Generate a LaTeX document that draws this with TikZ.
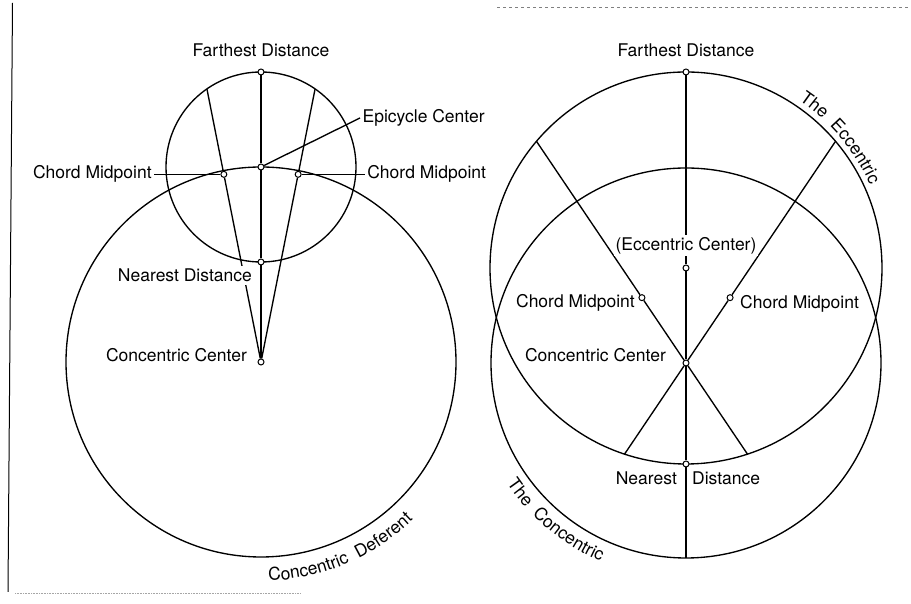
\documentclass[tikz,border=0pt]{standalone}
\usepackage{fontspec}
\setmainfont{TeX Gyre Heros}
\usetikzlibrary{positioning, calc, decorations.text}
\newcommand\lblfont{\fontsize{17.5}{20}\selectfont}

\begin{document}
\begin{tikzpicture}[
      x=1pt, y=1pt,
      line width=1.35pt,
      every node/.style={font=\lblfont, inner sep=2pt},
      dot/.style={circle, draw, fill=white, line width=1pt, inner sep=0pt, minimum size=6pt},
      mask/.style={fill=white},
      arclabel/.style={decorate, decoration={text along path, text align=left}}
    ]
      \useasboundingbox (0,0) rectangle (911,604);

      % page edges
      \draw[line width=1pt] (12.5,601) -- (8,12);
      \draw[gray, line width=0.6pt, dashed] (497,597) -- (911,597);
      \draw[gray!70, line width=0.6pt, densely dotted] (15,11) -- (300,11);

      % left: epicycle on the concentric deferent
      \coordinate (dc0) at (261,242);
      \coordinate (ep0) at (261,437);
      \draw (dc0) circle[radius=195];
      \draw (ep0) circle[radius=95];
      \node[dot] (dc) at (dc0) {};
      \node[dot] (epc) at (ep0) {};
      \node[dot] (lfar) at (261,532) {};
      \node[dot] (lnear) at (261,342) {};
      \coordinate (lfl) at ($(dc0)+(101.2:278.2)$);
      \coordinate (lfr) at ($(dc0)+(78.8:278.2)$);
      \node[dot] (lml) at ($(dc0)+(101.2:191.3)$) {};
      \node[dot] (lmr) at ($(dc0)+(78.8:191.3)$) {};
      \draw (dc) -- (lnear) -- (epc) -- (lfar);
      \draw (dc) -- (lml) -- (lfl);
      \draw (dc) -- (lmr) -- (lfr);

      \node[above=9pt of lfar] {Farthest Distance};
      \node[anchor=west] (epilbl) at (360,486) {Epicycle Center};
      \draw (epc) -- (epilbl.west);
      \node[left=66pt of lml] (lmllbl) {Chord Midpoint};
      \draw (lmllbl) -- (lml);
      \node[right=63pt of lmr] (lmrlbl) {Chord Midpoint};
      \draw (lmr) -- (lmrlbl);
      \node[mask, inner sep=3pt, below left=1pt and 3pt of lnear] {Nearest Distance};
      \node[left=8pt of dc, yshift=7pt] {Concentric Center};
      \path[arclabel, decoration={text={|\lblfont|Concentric{\ }{\ }Deferent}}]
        (dc0) ++(-88:219) arc[start angle=-88, end angle=-25, radius=219];

      % right: eccentric and concentric
      \coordinate (ec0) at (686,336);
      \coordinate (cc0) at (686,241);
      \draw (ec0) circle[radius=196];
      \draw (cc0) circle[radius=195];
      \node[dot] (ec) at (ec0) {};
      \node[dot] (cc) at (cc0) {};
      \node[dot] (rfar) at (686,532) {};
      \node[dot] (rnear) at (686,140) {};
      \coordinate (rbot) at (686,46);
      \coordinate (rfl) at ($(cc0)+(124:267.4)$);
      \coordinate (rfr) at ($(cc0)+(56:267.4)$);
      \coordinate (rnl) at ($(cc0)+(236:109.9)$);
      \coordinate (rnr) at ($(cc0)+(-56:109.9)$);
      \node[dot] (rml) at ($(cc0)+(124:78.8)$) {};
      \node[dot] (rmr) at ($(cc0)+(56:78.8)$) {};
      \draw (rfar) -- (ec) -- (cc) -- (rnear) -- (rbot);
      \draw (rfl) -- (rml) -- (cc) -- (rnr);
      \draw (rfr) -- (rmr) -- (cc) -- (rnl);

      \node[above=9pt of rfar] {Farthest Distance};
      \node[mask, above=8pt of ec] {(Eccentric Center)};
      \node[left=1pt of rml, yshift=-5pt] {Chord Midpoint};
      \node[right=4pt of rmr, yshift=-6pt] {Chord Midpoint};
      \node[left=14pt of cc, yshift=8pt] {Concentric Center};
      \node[below left=3pt and 4pt of rnear] {Nearest};
      \node[below right=3pt and 1pt of rnear] {Distance};
      \path[arclabel, decoration={text={|\lblfont|The{\ }{\ }Eccentric}}]
        (ec0) ++(56:202) arc[start angle=56, end angle=5, radius=202];
      \path[arclabel, decoration={text={|\lblfont|The{\ }{\ }Concentric}}]
        (cc0) ++(-146:216) arc[start angle=-146, end angle=-60, radius=216];
\end{tikzpicture}
\end{document}
